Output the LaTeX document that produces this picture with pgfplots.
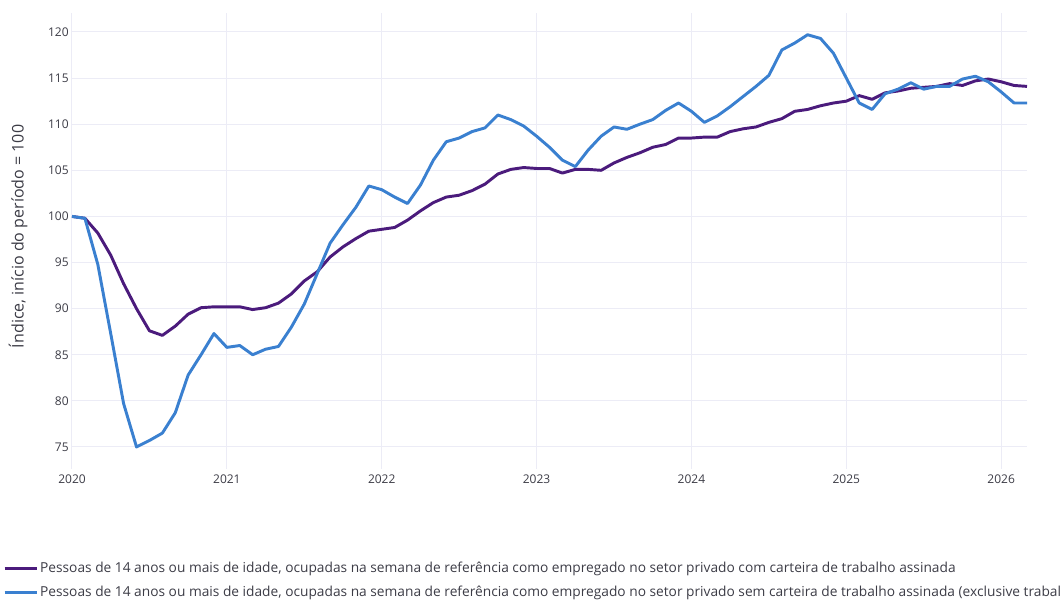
\documentclass[border=0pt]{standalone}
\usepackage{pgfplots}
\pgfplotsset{compat=1.18}
\usepackage{fontspec}
\setmainfont{Open Sans}
\definecolor{cpurple}{RGB}{75,27,124}
\definecolor{cblue}{RGB}{58,128,208}
\definecolor{cgrid}{RGB}{236,236,246}
\definecolor{ctext}{RGB}{60,60,70}

\pgfplotstableread{
m purple blue
0 100.0 100.0
1 99.8 99.8
2 98.2 94.8
3 95.8 87.3
4 92.7 79.7
5 90.0 75.0
6 87.6 75.7
7 87.1 76.5
8 88.1 78.7
9 89.4 82.8
10 90.1 85.0
11 90.2 87.3
12 90.2 85.8
13 90.2 86.0
14 89.9 85.0
15 90.1 85.6
16 90.6 85.9
17 91.6 88.0
18 93.0 90.5
19 94.0 93.8
20 95.6 97.1
21 96.7 99.1
22 97.6 101.0
23 98.4 103.3
24 98.6 102.9
25 98.8 102.1
26 99.6 101.4
27 100.6 103.4
28 101.5 106.1
29 102.1 108.1
30 102.3 108.5
31 102.8 109.2
32 103.5 109.6
33 104.6 111.0
34 105.1 110.5
35 105.3 109.8
36 105.2 108.7
37 105.2 107.5
38 104.7 106.1
39 105.1 105.4
40 105.1 107.2
41 105.0 108.7
42 105.8 109.7
43 106.4 109.45
44 106.9 110.0
45 107.5 110.5
46 107.8 111.5
47 108.5 112.3
48 108.5 111.4
49 108.6 110.2
50 108.6 110.9
51 109.2 111.9
52 109.5 113.0
53 109.7 114.1
54 110.2 115.3
55 110.6 118.05
56 111.4 118.8
57 111.6 119.7
58 112.0 119.3
59 112.3 117.7
60 112.5 115.0
61 113.1 112.3
62 112.7 111.6
63 113.4 113.3
64 113.6 113.8
65 113.9 114.5
66 114.0 113.8
67 114.1 114.1
68 114.4 114.1
69 114.2 114.9
70 114.7 115.2
71 114.9 114.6
72 114.6 113.5
73 114.2 112.3
74 114.1 112.3
}\data

\begin{document}
\begin{tikzpicture}
\begin{axis}[
  name=ax,
  scale only axis,
  width=716.25pt, height=342pt,
  xmin=0, xmax=74,
  ymin=72.61, ymax=122.06,
  axis line style={draw=none},
  xtick={0,12,24,36,48,60,72},
  xticklabels={2020,2021,2022,2023,2024,2025,2026},
  ytick={75,80,...,120},
  grid=major,
  major grid style={cgrid, line width=0.75pt},
  major tick length=0pt,
  tick style={draw=none},
  ticklabel style={font=\fontsize{9}{11}\selectfont, text=ctext},
  /pgf/number format/assume math mode=true,
  xticklabel style={yshift=-1pt},
  yticklabel style={xshift=1pt},
  ylabel={Índice, início do período = 100},
  every axis y label/.style={at={(axis description cs:-0.0565,0.51)}, rotate=90, anchor=center, font=\fontsize{12}{14}\selectfont, text=ctext},
  legend cell align=left,
  legend style={at={(axis description cs:-0.0723,-0.2)}, anchor=north west, draw=none, fill=none, inner sep=0pt, row sep=5.5pt, font=\fontsize{10.3}{12}\selectfont, text=ctext, nodes={inner sep=1.5pt}},
  legend image code/.code={\draw[#1, line width=2.2pt] (0pt,0pt) -- (24pt,0pt);},
]
\addplot[cpurple, line width=2.2pt, line join=round] table[x=m, y=purple] {\data};
\addlegendentry{Pessoas de 14 anos ou mais de idade, ocupadas na semana de referência como empregado no setor privado com carteira de trabalho assinada}
\addplot[cblue, line width=2.2pt, line join=round] table[x=m, y=blue] {\data};
\addlegendentry{Pessoas de 14 anos ou mais de idade, ocupadas na semana de referência como empregado no setor privado sem carteira de trabalho assinada (exclusive trabalhador doméstico)}
\end{axis}
\pgfresetboundingbox
\path[use as bounding box] ([xshift=-54pt,yshift=-97.5pt]ax.south west) rectangle ([xshift=24.75pt,yshift=9.75pt]ax.north east);
\end{tikzpicture}
\end{document}
